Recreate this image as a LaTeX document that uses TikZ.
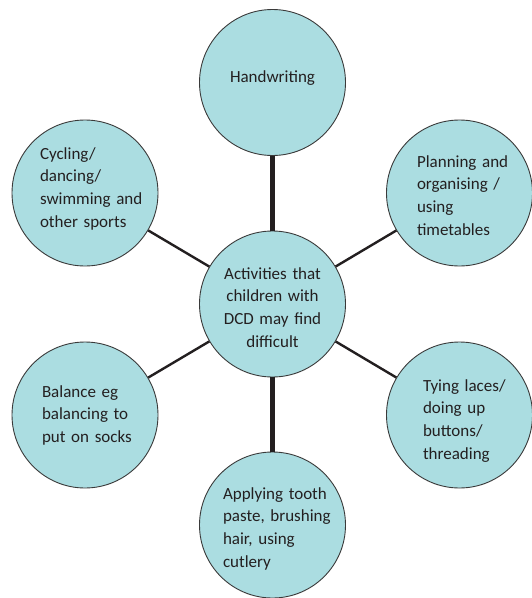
\documentclass[tikz,border=0pt]{standalone}
\usepackage{fontspec}
\setmainfont{Carlito}
\definecolor{bubble}{HTML}{ABDDE1}
\definecolor{rim}{HTML}{3A3A3A}
\definecolor{ink}{HTML}{231F20}
\begin{document}
\begin{tikzpicture}[x=1pt,y=-1pt,
  bub/.style={circle,draw=rim,line width=0.9pt,fill=bubble,minimum size=146pt,inner sep=0pt},
  lbl/.style={inner sep=0pt,outer sep=0pt,text width=#1,align=left,anchor=base west,
    font=\fontsize{17}{22.8}\selectfont,text=ink},
  clbl/.style={inner sep=0pt,outer sep=0pt,text width=#1,align=center,anchor=base,
    font=\fontsize{17}{22.8}\selectfont,text=ink},
  thick link/.style={draw=ink,line width=4.5pt},
  thin link/.style={draw=ink,line width=2.4pt}]
\useasboundingbox (0,0) rectangle (532,598);
% circles
\node[bub] (top) at (272.5,82.5) {};
\node[bub] (ctr) at (272.5,304) {};
\node[bub] (cyc) at (85,193) {};
\node[bub] (pln) at (459.5,193) {};
\node[bub] (bal) at (85,415) {};
\node[bub] (tie) at (459.5,415) {};
\node[bub] (app) at (272.5,525) {};
% connectors
\path[thick link] (top) -- (ctr);
\path[thick link] (ctr) -- (app);
\path[thin link] (ctr) -- (cyc);
\path[thin link] (ctr) -- (pln);
\path[thin link] (ctr) -- (bal);
\path[thin link] (ctr) -- (tie);
% labels
\node[clbl=140pt] (tTop) at (272.5,82) {Handwriting};
\node[clbl=140pt] (tCtr) at (272.5,279) {Activities that\\children with\\DCD may find\\difficult};
\node[lbl=120pt] (tCyc) at (40,159) {Cycling/\\dancing/\\swimming and\\other sports};
\node[lbl=120pt] (tPln) at (417,167) {Planning and\\organising /\\using\\timetables};
\node[lbl=120pt] (tBal) at (42,397) {Balance eg\\balancing to\\put on socks};
\node[lbl=120pt] (tTie) at (423,391) {Tying laces/\\doing up\\buttons/\\threading};
\node[lbl=130pt] (tApp) at (223,499) {Applying tooth\\paste, brushing\\hair, using\\cutlery};
\end{tikzpicture}
\end{document}
